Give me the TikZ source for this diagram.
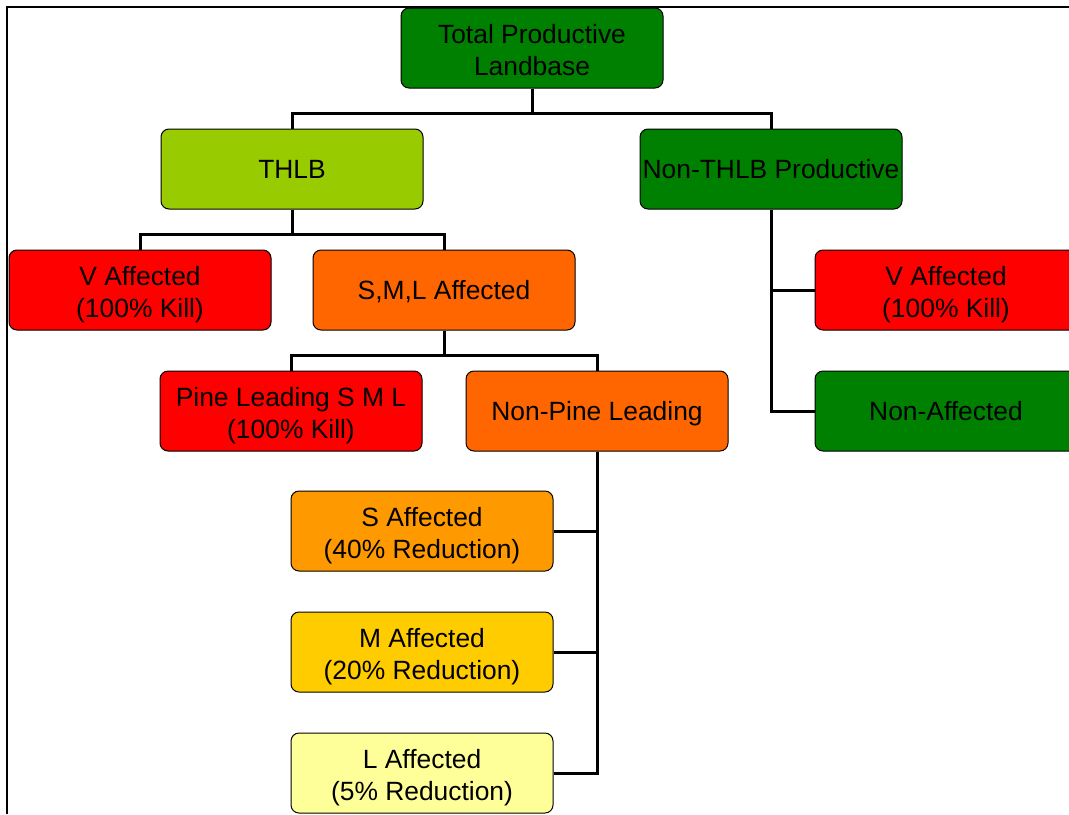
\documentclass[tikz,border=0pt]{standalone}
\usepackage{fontspec}
\setmainfont{Liberation Sans}
\usepackage[dvipsnames]{xcolor}
\definecolor{darkgreen}{HTML}{008000}
\definecolor{limegreen}{HTML}{99CC00}
\definecolor{killred}{HTML}{FF0000}
\definecolor{darkorange}{HTML}{FF6600}
\definecolor{midorange}{HTML}{FF9900}
\definecolor{goldyellow}{HTML}{FFCC00}
\definecolor{paleyellow}{HTML}{FFFF99}
\newcommand{\hiStrut}{\rule{0pt}{14pt}}

\begin{document}
\begin{tikzpicture}[x=0.5pt,y=-0.5pt,thick,main node/.style={draw,rounded corners=4pt,line width=0.5pt,minimum width=131pt,minimum height=40pt,inner sep=1pt,align=center,font=\fontsize{13.2}{16}\selectfont,execute at begin node={\rule{0pt}{12.3pt}},execute at end node={\rule[-2.8pt]{0pt}{2.8pt}}},link/.style={line width=1.5pt}]
                \useasboundingbox (0,0) rectangle (1069,814);
                \clip (0,0) rectangle (1069,814);
                \draw[line width=1.2pt] (7,814) -- (7,7) -- (1075,7);

                \node[main node,fill=darkgreen] (total) at (532,48) {\hiStrut Total Productive\\Landbase};
                \node[main node,fill=limegreen] (thlb) at (292,169) {THLB};
                \node[main node,fill=darkgreen] (nonthlb) at (771,169) {Non-THLB Productive};
                \node[main node,fill=killred] (vleft) at (140,290) {\hiStrut V Affected\\(100\% Kill)};
                \node[main node,fill=darkorange] (sml) at (444,290) {S,M,L Affected};
                \node[main node,fill=killred] (pine) at (291,411) {\hiStrut Pine Leading S M L\\(100\% Kill)};
                \node[main node,fill=darkorange] (nonpine) at (597,411) {Non-Pine Leading};
                \node[main node,fill=midorange] (saff) at (422,531) {\hiStrut S Affected\\(40\% Reduction)};
                \node[main node,fill=goldyellow] (maff) at (422,652) {\hiStrut M Affected\\(20\% Reduction)};
                \node[main node,fill=paleyellow] (laff) at (422,773) {\hiStrut L Affected\\(5\% Reduction)};
                \node[main node,fill=killred] (vright) at (946,290) {\hiStrut V Affected\\(100\% Kill)};
                \node[main node,fill=darkgreen] (nonaff) at (946,411) {Non-Affected};

                \draw[link] (total.south) -- ++(0,25) -| (thlb.north);
                \draw[link] (total.south) -- ++(0,25) -| (nonthlb.north);
                \draw[link] (thlb.south) -- ++(0,25) -| (vleft.north);
                \draw[link] (thlb.south) -- ++(0,25) -| (sml.north);
                \draw[link] (sml.south) -- ++(0,25) -| (pine.north);
                \draw[link] (sml.south) -- ++(0,25) -| (nonpine.north);
                \draw[link] (nonpine.south) |- (saff.east);
                \draw[link] (nonpine.south) |- (maff.east);
                \draw[link] (nonpine.south) |- (laff.east);
                \draw[link] (nonthlb.south) |- (vright.west);
                \draw[link] (nonthlb.south) |- (nonaff.west);
            \end{tikzpicture}
\end{document}
